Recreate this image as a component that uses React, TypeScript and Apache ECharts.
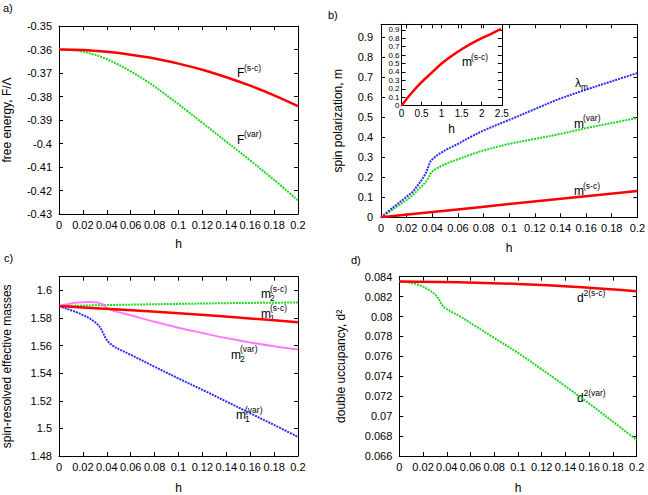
import React, { useEffect, useRef } from 'react';
import * as echarts from 'echarts';

const FONT = '"Liberation Sans", Arial, sans-serif';

// ---------- panel a: free energy ----------
const hA = [0, 0.02, 0.04, 0.06, 0.08, 0.1, 0.12, 0.14, 0.16, 0.18, 0.2];
const fSC = [-0.36, -0.3602, -0.361, -0.3622, -0.3638, -0.366, -0.3686, -0.3718, -0.3754, -0.3795, -0.3841];
const hAvar = [0, 0.01, 0.02, 0.03, 0.04, 0.05, 0.06, 0.07, 0.08, 0.09, 0.1, 0.12, 0.14, 0.16, 0.18, 0.2];
const fVar = [-0.36, -0.3602, -0.3609, -0.3622, -0.3641, -0.3665, -0.3693, -0.3724, -0.3758, -0.3795, -0.3833, -0.3912, -0.3992, -0.4072, -0.4155, -0.4242];

// ---------- panel b: spin polarization ----------
const hB = [0, 0.01, 0.02, 0.025, 0.03, 0.0335, 0.036, 0.0386, 0.041, 0.045, 0.0515, 0.06, 0.07, 0.08, 0.1, 0.12, 0.14, 0.16, 0.18, 0.2];
const lambdaM = [0, 0.052, 0.103, 0.13, 0.172, 0.204, 0.237, 0.279, 0.295, 0.315, 0.34, 0.367, 0.402, 0.434, 0.487, 0.541, 0.594, 0.638, 0.68, 0.721];
const mVar = [0, 0.043, 0.087, 0.113, 0.145, 0.167, 0.187, 0.217, 0.234, 0.25, 0.27, 0.29, 0.313, 0.334, 0.367, 0.392, 0.417, 0.446, 0.471, 0.497];
const hBsc = [0, 0.05, 0.1, 0.15, 0.2];
const mSC = [0, 0.033, 0.066, 0.099, 0.132];
// inset
const hIn = [0, 0.25, 0.5, 0.75, 1.0, 1.25, 1.5, 1.75, 2.0, 2.25, 2.48];
const mIn = [0, 0.15, 0.28, 0.39, 0.5, 0.59, 0.67, 0.74, 0.8, 0.855, 0.91];

// ---------- panel c: effective masses ----------
const hCsc = [0, 0.05, 0.1, 0.15, 0.2];
const m2SC = [1.5887, 1.5896, 1.5903, 1.5909, 1.5913];
const m1SC = [1.5887, 1.5862, 1.5835, 1.5804, 1.577];
const hC2 = [0, 0.005, 0.01, 0.015, 0.02, 0.025, 0.03, 0.034, 0.037, 0.04, 0.045, 0.05, 0.06, 0.08, 0.1, 0.12, 0.14, 0.16, 0.18, 0.2];
const m2Var = [1.5887, 1.5897, 1.5906, 1.5912, 1.5915, 1.5916, 1.5914, 1.5908, 1.5898, 1.5875, 1.5855, 1.5843, 1.582, 1.5773, 1.573, 1.5692, 1.5655, 1.5623, 1.5596, 1.5573];
const hC1 = [0, 0.005, 0.01, 0.015, 0.02, 0.025, 0.03, 0.033, 0.035, 0.037, 0.039, 0.041, 0.045, 0.05, 0.06, 0.08, 0.1, 0.12, 0.14, 0.16, 0.18, 0.2];
const m1Var = [1.5887, 1.5872, 1.5857, 1.5841, 1.5822, 1.5801, 1.5772, 1.5748, 1.5725, 1.569, 1.5655, 1.563, 1.56, 1.5575, 1.5534, 1.5447, 1.5362, 1.528, 1.5195, 1.511, 1.5025, 1.4938];

// ---------- panel d: double occupancy ----------
const hDsc = [0, 0.05, 0.1, 0.15, 0.2];
const d2SC = [0.08352, 0.08345, 0.08327, 0.08297, 0.08255];
const hDvar = [0, 0.005, 0.01, 0.015, 0.02, 0.025, 0.03, 0.033, 0.035, 0.037, 0.039, 0.041, 0.045, 0.05, 0.06, 0.08, 0.1, 0.12, 0.14, 0.16, 0.18, 0.2];
const d2Var = [0.08352, 0.08348, 0.08338, 0.08322, 0.083, 0.08266, 0.08222, 0.0818, 0.08135, 0.081, 0.0808, 0.08068, 0.0804, 0.0801, 0.07935, 0.07785, 0.07635, 0.0747, 0.073, 0.07125, 0.06945, 0.0676];

const zip = (xs: number[], ys: number[]) => xs.map((x, i) => [x, ys[i]]);

const RED = { color: '#ff0000', width: 2.5, type: 'solid' as const };
const GREEN = { color: '#1fd81f', width: 2, type: [2, 1] as any };
const BLUE = { color: '#2a2aff', width: 2, type: [2, 1] as any };
const MAGENTA = { color: '#ff7aff', width: 2, type: 'solid' as const };

export default function App() {
  const ref = useRef<HTMLDivElement>(null);

  useEffect(() => {
    if (!ref.current) return;
    const chart = echarts.init(ref.current, undefined, { renderer: 'svg' });

    const grids: any[] = [];
    const xAxes: any[] = [];
    const yAxes: any[] = [];
    const series: any[] = [];

    const axis = (gi: number, min: number, max: number, interval: number, position: string, showLabel: boolean, fs: number, margin: number, extra: any = {}) => ({
      type: 'value', gridIndex: gi, min, max, interval, position,
      axisLine: { show: true, onZero: false, lineStyle: { color: '#000', width: 1 } },
      axisTick: { show: true, inside: true, length: 4, lineStyle: { color: '#000', width: 1 } },
      axisLabel: { show: showLabel, color: '#000', fontFamily: FONT, fontSize: fs, margin },
      splitLine: { show: false },
      nameTextStyle: { color: '#000', fontFamily: FONT, fontSize: 12 },
      ...extra,
    });

    const panel = (g: any, x: [number, number, number], y: [number, number, number], xName: string, yName: string, xGap: number, yGap: number, fs: number, xm: number, ym: number, yExtraLabel: any = {}, yfs?: number) => {
      const gi = grids.length;
      grids.push({ ...g, containLabel: false });
      const xi = xAxes.length;
      xAxes.push(axis(gi, x[0], x[1], x[2], 'bottom', true, fs, xm, { name: xName, nameLocation: 'middle', nameGap: xGap }));
      xAxes.push(axis(gi, x[0], x[1], x[2], 'top', false, fs, xm));
      const yi = yAxes.length;
      const ya = axis(gi, y[0], y[1], y[2], 'left', true, yfs ?? fs, ym, { name: yName, nameLocation: 'middle', nameGap: yGap });
      ya.axisLabel = { ...ya.axisLabel, ...yExtraLabel };
      yAxes.push(ya);
      yAxes.push(axis(gi, y[0], y[1], y[2], 'right', false, fs, ym));
      return { xi, yi };
    };

    const line = (p: { xi: number; yi: number }, data: number[][], style: any, z = 2) => {
      series.push({
        type: 'line', xAxisIndex: p.xi, yAxisIndex: p.yi, data, showSymbol: false, symbol: 'none',
        smooth: 0.35, lineStyle: style, silent: true, z,
      });
    };

    // panel a
    const pa = panel({ left: 53, top: 26, width: 245, height: 188 }, [0, 0.2, 0.02], [-0.43, -0.35, 0.01], 'h', 'free energy, F/\u039B', 24, 46, 11, 5, 7);
    line(pa, zip(hA, fSC), RED, 3);
    line(pa, zip(hAvar, fVar), GREEN);

    // panel b
    const pb = panel({ left: 381, top: 24.3, width: 259, height: 193 }, [0, 0.2, 0.02], [0, 0.965, 0.1], 'h', 'spin polarization, m', 25, 37, 11, 5, 8, { showMaxLabel: false });
    line(pb, zip(hBsc, mSC), RED, 3);
    line(pb, zip(hB, mVar), GREEN);
    line(pb, zip(hB, lambdaM), BLUE);

    // inset
    const pi = panel({ left: 401.5, top: 24.3, width: 100.3, height: 81.4 }, [0, 2.5, 0.5], [0, 0.965, 0.1], 'h', '', 17, 0, 10, 3, 2, { showMaxLabel: false, lineHeight: 8 }, 8);
    line(pi, zip(hIn, mIn), RED, 3);

    // panel c
    const pc = panel({ left: 53, top: 276.7, width: 245, height: 188.3 }, [0, 0.2, 0.02], [1.48, 1.61, 0.02], 'h', 'spin-resolved effective masses', 26, 46, 11, 5, 7, { showMaxLabel: false });
    line(pc, zip(hCsc, m2SC), GREEN);
    line(pc, zip(hCsc, m1SC), RED, 3);
    line(pc, zip(hC2, m2Var), MAGENTA);
    line(pc, zip(hC1, m1Var), BLUE);

    // panel d
    const pd = panel({ left: 399.3, top: 276.7, width: 237.4, height: 188.3 }, [0, 0.2, 0.02], [0.066, 0.084, 0.002], 'h', 'double uccupancy, d\u00B2', 26, 52, 11, 5, 7);
    line(pd, zip(hDsc, d2SC), RED, 3);
    line(pd, zip(hDvar, d2Var), GREEN);

    // annotations
    const t = (x: number, y: number, s: string, fs: number) => ({
      type: 'text', x, y, silent: true,
      style: { text: s, fontSize: fs, fontFamily: FONT, fill: '#000', align: 'left', verticalAlign: 'middle' },
    });
    const lab = (x: number, y: number, base: string, bw: number, sup?: string, sub?: string) => {
      const els: any[] = [t(x, y, base, 12)];
      if (sup) els.push(t(x + bw, y - 5.5, sup, 8.5));
      if (sub) els.push(t(x + bw, y + 4, sub, 8.5));
      return els;
    };

    const graphic: any[] = [
      t(3, 8, 'a)', 11),
      t(328, 15, 'b)', 11),
      t(4, 258, 'c)', 11),
      t(351, 260, 'd)', 11),
      ...lab(237, 73, 'F', 7, '(s-c)'),
      ...lab(237, 139.5, 'F', 7, '(var)'),
      ...lab(575, 83, '\u03BB', 6, undefined, 'm'),
      ...lab(574, 123.5, 'm', 9, '(var)'),
      ...lab(574, 191, 'm', 9, '(s-c)'),
      ...lab(462, 62, 'm', 9, '(s-c)'),
      ...lab(261, 294, 'm', 9, '(s-c)', '2'),
      ...lab(261, 313.5, 'm', 9, '(s-c)', '1'),
      ...lab(231, 354.5, 'm', 9, '(var)', '2'),
      ...lab(236, 415, 'm', 9, '(var)', '1'),
      ...lab(577, 298, 'd', 6.5, '2(s-c)'),
      ...lab(577, 398, 'd', 6.5, '2(var)'),
    ];

    chart.setOption({
      animation: false,
      backgroundColor: '#fff',
      grid: grids,
      xAxis: xAxes,
      yAxis: yAxes,
      series,
      graphic,
    });

    return () => chart.dispose();
  }, []);

  return <div ref={ref} style={{ position: 'fixed', left: 0, top: 0, width: 648, height: 495, background: '#fff' }} />;
}
